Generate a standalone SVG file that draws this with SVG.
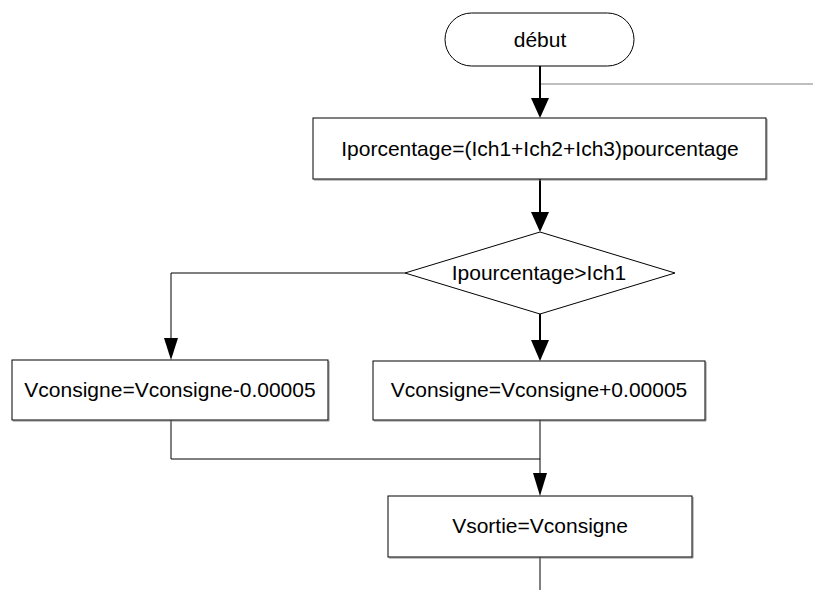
<svg xmlns="http://www.w3.org/2000/svg" width="813" height="590" viewBox="0 0 813 590">
<style>
  .shape { fill: #ffffff; stroke: #000000; stroke-width: 1; }
  .shadow { fill: none; stroke: #8a8a8a; stroke-width: 1; }
  .label { font-family: "Liberation Sans", Arial, sans-serif; font-size: 21px; fill: #000000; text-anchor: middle; }
  .thick { fill: none; stroke: #000000; stroke-width: 2; }
  .thin { fill: none; stroke: #000000; stroke-width: 1; }
  .gray { fill: none; stroke: #808080; stroke-width: 1.2; }
  .head { fill: #000000; stroke: none; }
</style>
<rect width="813" height="590" fill="#ffffff"/>
<g id="connectors">
  <line class="thick" x1="540" y1="66" x2="540" y2="100"/>
  <polygon class="head" points="531,98 549,98 540,118"/>
  <line class="gray" x1="541" y1="84" x2="813" y2="84"/>
  <line class="thick" x1="540" y1="179" x2="540" y2="214"/>
  <polygon class="head" points="531,212 549,212 540,232"/>
  <polyline class="thin" points="405,273 171,273 171,340"/>
  <polygon class="head" points="164,338 178,338 171,360"/>
  <line class="thick" x1="540" y1="314" x2="540" y2="342"/>
  <polygon class="head" points="531,340 549,340 540,361"/>
  <polyline class="thin" points="171,420 171,459 540,459"/>
  <line class="thin" x1="540" y1="420" x2="540" y2="476"/>
  <polygon class="head" points="533,473 547,473 540,496"/>
  <line class="thin" x1="540" y1="557" x2="540" y2="590"/>
</g>
<g id="debut">
  <rect class="shape" x="445" y="13" width="189" height="53" rx="26.5" ry="26.5"/>
  <text class="label" x="540" y="47">début</text>
</g>
<g id="iporcentage">
  <path class="shadow" d="M314,180 H767 V119"/>
  <rect class="shape" x="313" y="118" width="453" height="61"/>
  <text class="label" x="540" y="156">Iporcentage=(Ich1+Ich2+Ich3)pourcentage</text>
</g>
<g id="decision">
  <polygon class="shape" points="540,232 675,273 540,314 405,273"/>
  <text class="label" x="539" y="280">Ipourcentage&gt;Ich1</text>
</g>
<g id="vconsigne-moins">
  <path class="shadow" d="M13,421 H329 V361"/>
  <rect class="shape" x="12" y="360" width="316" height="60"/>
  <text class="label" x="170" y="397">Vconsigne=Vconsigne-0.00005</text>
</g>
<g id="vconsigne-plus">
  <path class="shadow" d="M374,421 H706 V362"/>
  <rect class="shape" x="373" y="361" width="332" height="59"/>
  <text class="label" x="539" y="397">Vconsigne=Vconsigne+0.00005</text>
</g>
<g id="vsortie">
  <path class="shadow" d="M389,558 H693 V497"/>
  <rect class="shape" x="388" y="496" width="304" height="61"/>
  <text class="label" x="540" y="533">Vsortie=Vconsigne</text>
</g>
</svg>
